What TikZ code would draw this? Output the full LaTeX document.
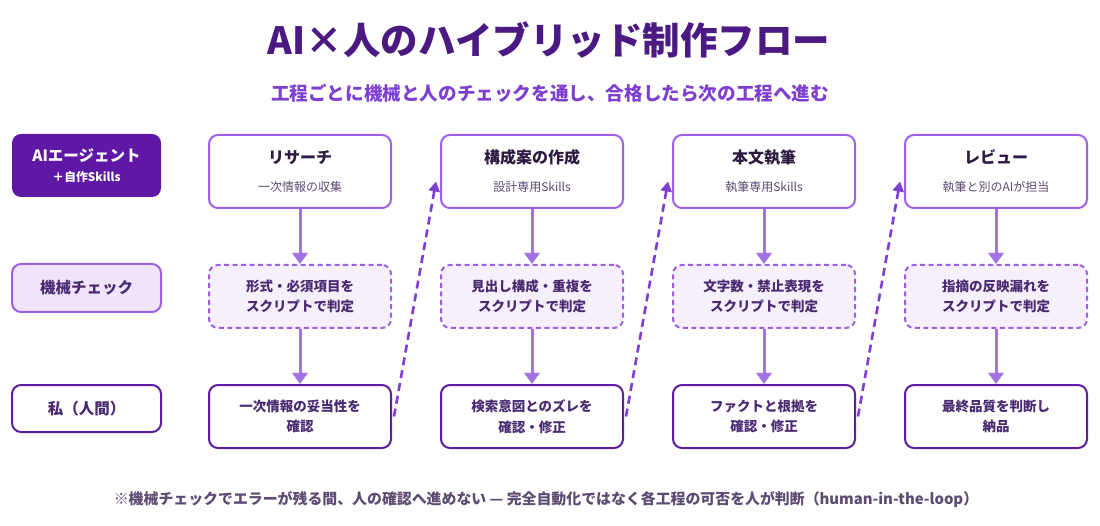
\documentclass[tikz,border=0pt]{standalone}
\usepackage{fontspec}
\setmainfont{Noto Sans CJK JP}
\usetikzlibrary{arrows.meta,calc}

\definecolor{titleink}{HTML}{4A1A82}
\definecolor{subink}{HTML}{7E3FD1}
\definecolor{agentfill}{HTML}{5F18A5}
\definecolor{midpurple}{HTML}{9D60E2}
\definecolor{deeppurple}{HTML}{5B1CA0}
\definecolor{rolefill}{HTML}{F0E4FB}
\definecolor{checkfill}{HTML}{F6F0FD}
\definecolor{arrowpurple}{HTML}{A072E3}
\definecolor{dashpurple}{HTML}{7E3ED6}
\definecolor{inkdark}{HTML}{2D1B42}
\definecolor{inkmid}{HTML}{4A2A70}
\definecolor{inksoft}{HTML}{5C4B72}

\tikzset{
  stagebox/.style={draw=midpurple, line width=2pt, rounded corners=9pt, fill=white,
    minimum width=182pt, minimum height=73pt, align=center, text=inksoft,
    font=\fontsize{12}{28}\selectfont},
  checkbox/.style={draw=midpurple, line width=2pt, dash pattern=on 5pt off 3.5pt,
    rounded corners=9pt, fill=checkfill, minimum width=182pt, minimum height=63pt,
    align=center, text=inkmid, font=\fontsize{13.5}{20.5}\selectfont\bfseries},
  humanbox/.style={draw=deeppurple, line width=2pt, rounded corners=9pt, fill=white,
    minimum width=182pt, minimum height=63pt, align=center, text=inkmid,
    font=\fontsize{13.5}{20.5}\selectfont\bfseries},
  rolebox/.style={line width=2pt, rounded corners=9pt, minimum width=149pt,
    align=center, font=\fontsize{15.5}{22}\selectfont\bfseries},
  downarrow/.style={draw=arrowpurple, line width=3pt, -{Triangle[length=11pt,width=15pt]}},
  backarrow/.style={draw=dashpurple, line width=2.6pt, dash pattern=on 8pt off 5pt,
    -{Triangle[length=10pt,width=11pt]}}
}

\newcommand{\stagetitle}[1]{{\fontsize{16}{20}\selectfont\bfseries\color{inkdark}#1}}

\begin{document}
\begin{tikzpicture}[x=1pt, y=-1pt]
\useasboundingbox (0, 0) rectangle (1100, 526);

\node (title) [text=titleink, font=\fontsize{37.5}{42}\selectfont\bfseries] at (549, 40) {AI×人のハイブリッド制作フロー};
\node (subtitle) [text=subink, font=\fontsize{18.6}{22}\selectfont\bfseries] at (550, 93) {工程ごとに機械と人のチェックを通し、合格したら次の工程へ進む};

\node (agent) [rolebox, fill=agentfill, text=white, minimum height=63pt] at (86.5, 165.5) {AIエージェント\\[-2pt]{\fontsize{11.8}{14}\selectfont ＋自作Skills}};
\node (machine) [rolebox, draw=midpurple, fill=rolefill, text=inkmid, minimum height=48pt] at (86.5, 288) {機械チェック};
\node (human) [rolebox, draw=deeppurple, fill=white, text=inkmid, minimum height=47pt] at (86.5, 408.5) {私（人間）};

\node (a1) [stagebox] at (300, 171.5) {\stagetitle{リサーチ}\\一次情報の収集};
\node (a2) [stagebox] at (532, 171.5) {\stagetitle{構成案の作成}\\設計専用Skills};
\node (a3) [stagebox] at (764, 171.5) {\stagetitle{本文執筆}\\執筆専用Skills};
\node (a4) [stagebox] at (996, 171.5) {\stagetitle{レビュー}\\執筆と別のAIが担当};

\node (b1) [checkbox] at (300, 296.5) {形式・必須項目を\\スクリプトで判定};
\node (b2) [checkbox] at (532, 296.5) {見出し構成・重複を\\スクリプトで判定};
\node (b3) [checkbox] at (764, 296.5) {文字数・禁止表現を\\スクリプトで判定};
\node (b4) [checkbox] at (996, 296.5) {指摘の反映漏れを\\スクリプトで判定};

\node (c1) [humanbox] at (300, 416.5) {一次情報の妥当性を\\確認};
\node (c2) [humanbox] at (532, 416.5) {検索意図とのズレを\\確認・修正};
\node (c3) [humanbox] at (764, 416.5) {ファクトと根拠を\\確認・修正};
\node (c4) [humanbox] at (996, 416.5) {最終品質を判断し\\納品};

\foreach \i in {1, 2, 3, 4}{
  \draw [downarrow] (a\i) -- (b\i);
  \draw [downarrow] (b\i) -- (c\i);
}
\foreach \i/\j in {1/2, 2/3, 3/4}{
  \draw [backarrow] ($(c\i.east)+(2, 0)$) -- ($(a\j.west)+(-4, 10)$);
}

\node (note) [text=inksoft, font=\fontsize{14.9}{17}\selectfont\bfseries] at (546, 500) {※機械チェックでエラーが残る間、人の確認へ進めない — 完全自動化ではなく各工程の可否を人が判断（human-in-the-loop）};
\end{tikzpicture}
\end{document}
